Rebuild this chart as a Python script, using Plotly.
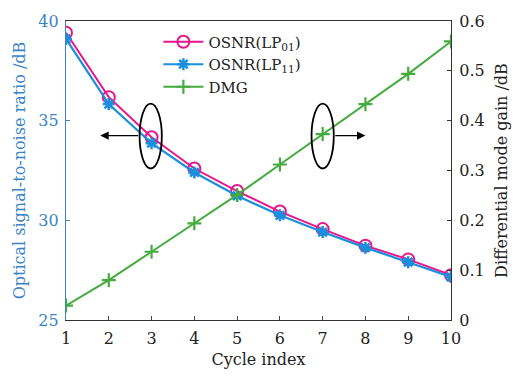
import plotly.graph_objects as go

cycles = [1, 2, 3, 4, 5, 6, 7, 8, 9, 10]
osnr_lp01 = [39.41, 36.18, 34.17, 32.6, 31.47, 30.44, 29.56, 28.73, 28.04, 27.25]
osnr_lp11 = [39.1, 35.83, 33.87, 32.4, 31.23, 30.25, 29.41, 28.63, 27.9, 27.16]
dmg = [0.029, 0.080, 0.137, 0.194, 0.251, 0.312, 0.373, 0.433, 0.494, 0.559]

PINK = "#e8158c"
BLUE = "#1a8fdc"
GREEN = "#45ab3f"
AXBLUE = "#3a84c6"
FONT = "DejaVu Serif"

fig = go.Figure()
fig.add_trace(go.Scatter(x=cycles, y=osnr_lp01, name="OSNR(LP<sub>01</sub>)",
                         mode="lines+markers", line=dict(color=PINK, width=2),
                         marker=dict(symbol="circle-open", size=12, color=PINK, line=dict(width=2))))
fig.add_trace(go.Scatter(x=cycles, y=osnr_lp11, name="OSNR(LP<sub>11</sub>)",
                         mode="lines+markers", line=dict(color=BLUE, width=2.2),
                         marker=dict(symbol="asterisk-open", size=10, color=BLUE, line=dict(width=2.5, color=BLUE))))
fig.add_trace(go.Scatter(x=cycles, y=dmg, name="DMG", yaxis="y2",
                         mode="lines+markers", line=dict(color=GREEN, width=2),
                         marker=dict(symbol="cross-thin-open", size=10, color=GREEN, line=dict(width=2.2, color=GREEN))))

# ellipses and arrows
fig.add_shape(type="circle", xref="x", yref="y", x0=2.72, x1=3.24, y0=32.6, y1=35.85,
              line=dict(color="black", width=1.8))
fig.add_shape(type="circle", xref="x", yref="y", x0=6.74, x1=7.26, y0=32.6, y1=35.85,
              line=dict(color="black", width=1.8))
fig.add_annotation(x=1.8, y=34.25, ax=2.72, ay=34.25, xref="x", yref="y", axref="x", ayref="y",
                   text="", showarrow=True, arrowhead=2, arrowsize=1.3, arrowwidth=1.3, arrowcolor="black")
fig.add_annotation(x=8.0, y=34.25, ax=7.26, ay=34.25, xref="x", yref="y", axref="x", ayref="y",
                   text="", showarrow=True, arrowhead=2, arrowsize=1.3, arrowwidth=1.3, arrowcolor="black")

fig.update_layout(
    width=520, height=377,
    margin=dict(l=66, r=64, t=15, b=57),
    paper_bgcolor="white", plot_bgcolor="white",
    font=dict(family=FONT, size=15, color="#222"),
    showlegend=True,
    legend=dict(x=0.24, y=0.985, xanchor="left", yanchor="top", bgcolor="rgba(0,0,0,0)",
                font=dict(family=FONT, size=15, color="#222"), tracegroupgap=0, itemwidth=40),
    xaxis=dict(range=[1, 10], tickvals=cycles, ticks="inside", ticklen=4, showgrid=False, zeroline=False,
               showline=True, linecolor="#333", linewidth=1.2, mirror=True, ticklabelstandoff=4,
               title=dict(text="Cycle index", standoff=6, font=dict(family=FONT, size=16, color="#222")),
               tickfont=dict(family=FONT, size=16, color="#222")),
    yaxis=dict(range=[25, 40], tickvals=[25, 30, 35, 40], ticks="inside", ticklen=4, showgrid=False, zeroline=False,
               showline=True, linecolor=AXBLUE, linewidth=1.2, tickcolor=AXBLUE, ticklabelstandoff=3,
               title=dict(text="Optical signal-to-noise ratio /dB", standoff=8, font=dict(family=FONT, size=16, color=AXBLUE)),
               tickfont=dict(family=FONT, size=16, color=AXBLUE)),
    yaxis2=dict(range=[0, 0.6], tickvals=[0, 0.1, 0.2, 0.3, 0.4, 0.5, 0.6], ticktext=["0", "0.1", "0.2", "0.3", "0.4", "0.5", "0.6"],
                overlaying="y", side="right", ticks="inside", ticklen=4, showgrid=False, zeroline=False,
                showline=True, linecolor="#333", linewidth=1.2, tickcolor="#333", ticklabelstandoff=4,
                title=dict(text="Differential mode gain /dB", standoff=12, font=dict(family=FONT, size=16, color="#222")),
                tickfont=dict(family=FONT, size=16, color="#222")),
)

fig.write_html("out.html")
